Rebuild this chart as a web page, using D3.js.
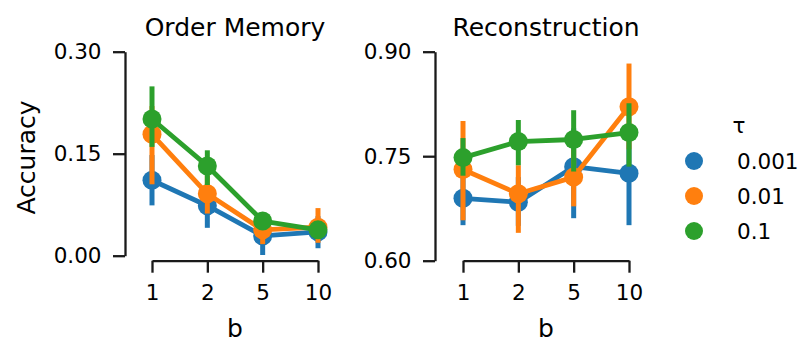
<!DOCTYPE html>
<html>
<head>
<meta charset="utf-8">
<script src="https://cdn.jsdelivr.net/npm/d3@7"></script>
<style>
  html, body { margin: 0; padding: 0; background: #fff; }
  svg { display: block; font-family: "DejaVu Sans", sans-serif; }
</style>
</head>
<body>
<svg id="chart" width="804" height="344"></svg>
<script>
// ---- data ----
const categories = ["1", "2", "5", "10"];
const hueLevels = ["0.001", "0.01", "0.1"];
const colors = ["#1f77b4", "#ff7f0e", "#2ca02c"];

// Order Memory: means, CI low, CI high per hue level
const orderMean = [
  [0.111, 0.0735, 0.029, 0.035],
  [0.1785, 0.091, 0.038, 0.042],
  [0.201, 0.132, 0.051, 0.038]
];
const orderLo = [
  [0.074, 0.041, 0.001, 0.011],
  [0.105, 0.062, 0.017, 0.019],
  [0.160, 0.104, 0.044, 0.033]
];
const orderHi = [
  [0.148, 0.105, 0.055, 0.058],
  [0.220, 0.118, 0.058, 0.070],
  [0.249, 0.155, 0.058, 0.043]
];

// Reconstruction
const reconMean = [
  [0.6896, 0.684, 0.735, 0.7255],
  [0.731, 0.696, 0.720, 0.821],
  [0.748, 0.771, 0.774, 0.784]
];
const reconLo = [
  [0.651, 0.650, 0.661, 0.651],
  [0.658, 0.640, 0.678, 0.760],
  [0.722, 0.737, 0.728, 0.735]
];
const reconHi = [
  [0.730, 0.720, 0.790, 0.790],
  [0.8005, 0.737, 0.760, 0.883],
  [0.776, 0.802, 0.816, 0.826]
];

const orderTicks = [0.00, 0.15, 0.30];
const reconTicks = [0.60, 0.75, 0.90];

// ---- drawing ----
const svg = d3.select("#chart");
const axisColor = "#1a1a1a";
const tickFont = 21.5;
const labelFont = 25;

function panel(opts) {
  const x = d3.scalePoint().domain(categories).range(opts.xRange).padding(0);
  const y = d3.scaleLinear().domain(opts.yDomain).range(opts.yRange);
  const g = svg.append("g");

  // y axis
  const ya = g.append("g")
    .attr("transform", `translate(${opts.ySpineX},0)`)
    .call(d3.axisLeft(y).tickValues(opts.ticks).tickFormat(d3.format(".2f"))
      .tickSize(12).tickSizeOuter(0).tickPadding(11.5));
  // x axis
  const xa = g.append("g")
    .attr("transform", `translate(0,${opts.xSpineY})`)
    .call(d3.axisBottom(x).tickSize(12).tickSizeOuter(0).tickPadding(12.3));

  [ya, xa].forEach(a => {
    a.attr("font-family", null).attr("font-size", null);
    a.select(".domain").attr("stroke", axisColor).attr("stroke-width", 2.3);
    a.selectAll(".tick line").attr("stroke", axisColor).attr("stroke-width", 2.3);
    a.selectAll(".tick text").attr("fill", "#000").style("font-size", tickFont + "px")
      .style("font-family", "DejaVu Sans");
  });

  // series
  hueLevels.forEach((h, j) => {
    const pts = categories.map((c, i) => ({c, m: opts.mean[j][i], lo: opts.lo[j][i], hi: opts.hi[j][i]}));
    const sg = g.append("g");
    sg.append("path")
      .datum(pts)
      .attr("fill", "none")
      .attr("stroke", colors[j])
      .attr("stroke-width", 4.8)
      .attr("stroke-linejoin", "round")
      .attr("d", d3.line().x(d => x(d.c)).y(d => y(d.m)));
    sg.selectAll("line.err").data(pts).enter().append("line")
      .attr("class", "err")
      .attr("x1", d => x(d.c)).attr("x2", d => x(d.c))
      .attr("y1", d => y(d.lo)).attr("y2", d => y(d.hi))
      .attr("stroke", colors[j]).attr("stroke-width", 5);
    sg.selectAll("circle").data(pts).enter().append("circle")
      .attr("cx", d => x(d.c)).attr("cy", d => y(d.m))
      .attr("r", 9.5).attr("fill", colors[j]);
  });

  // title
  svg.append("text")
    .attr("x", opts.titleX).attr("y", 36)
    .attr("text-anchor", "middle")
    .style("font-size", labelFont + "px")
    .attr("fill", "#000")
    .text(opts.title);
  // x label
  svg.append("text")
    .attr("x", (opts.xRange[0] + opts.xRange[1]) / 2).attr("y", 336.5)
    .attr("text-anchor", "middle")
    .style("font-size", labelFont + "px")
    .attr("fill", "#000")
    .text("b");
}

panel({
  title: "Order Memory", titleX: 235,
  xRange: [152, 318], ySpineX: 125, xSpineY: 260.7,
  yDomain: [0, 0.30], yRange: [255.7, 51.7],
  ticks: orderTicks, mean: orderMean, lo: orderLo, hi: orderHi
});
panel({
  title: "Reconstruction", titleX: 546,
  xRange: [463, 629], ySpineX: 435, xSpineY: 260.7,
  yDomain: [0.60, 0.90], yRange: [260.7, 51.7],
  ticks: reconTicks, mean: reconMean, lo: reconLo, hi: reconHi
});

// y label
svg.append("text")
  .attr("transform", "translate(35,157.5) rotate(-90)")
  .attr("text-anchor", "middle")
  .style("font-size", labelFont + "px")
  .attr("fill", "#000")
  .text("Accuracy");

// legend
const leg = svg.append("g");
leg.append("text")
  .attr("x", 739).attr("y", 133)
  .attr("text-anchor", "middle")
  .style("font-size", tickFont + "px")
  .attr("fill", "#000")
  .text("τ");
hueLevels.forEach((h, j) => {
  const cy = 161 + j * 35;
  leg.append("circle").attr("cx", 694).attr("cy", cy).attr("r", 9).attr("fill", colors[j]);
  leg.append("text")
    .attr("x", 737).attr("y", cy).attr("dy", "0.36em")
    .style("font-size", tickFont + "px")
    .attr("fill", "#000")
    .text(h);
});
</script>
</body>
</html>
